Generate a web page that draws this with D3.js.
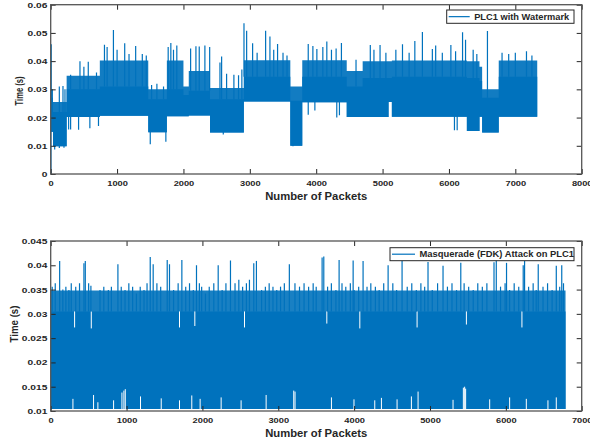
<!DOCTYPE html>
<html>
<head>
<meta charset="utf-8">
<script src="https://cdn.jsdelivr.net/npm/d3@7"></script>
<style>
  body { margin: 0; background: #fff; }
  svg text { font-family: "Liberation Sans", Arial, sans-serif; font-weight: bold; fill: #262626; }
</style>
</head>
<body>
<svg id="chart" width="590" height="444"></svg>
<script>
// ---------- Panel 1: PLC1 with Watermark ----------
const topLegend = "PLC1 with Watermark";
const topXTicks = [0, 1000, 2000, 3000, 4000, 5000, 6000, 7000, 8000];
const topYTicks = [0, 0.01, 0.02, 0.03, 0.04, 0.05, 0.06];
const topYTickLabels = ["0", "0.01", "0.02", "0.03", "0.04", "0.05", "0.06"];
// dense trace envelope: [fromPacket, toPacket, low, solid top, sparse top]
const topSegments = [
  [0, 35, 0.0150, 0.0270, 0.0300],
  [35, 240, 0.0098, 0.0220, 0.0255],
  [240, 740, 0.0202, 0.0300, 0.0348],
  [740, 1470, 0.0206, 0.0310, 0.0402],
  [1470, 1750, 0.0148, 0.0265, 0.0300],
  [1750, 2000, 0.0205, 0.0300, 0.0402],
  [2000, 2080, 0.0205, 0.0280, 0.0310],
  [2080, 2400, 0.0207, 0.0295, 0.0365],
  [2400, 2910, 0.0147, 0.0265, 0.0305],
  [2910, 3610, 0.0257, 0.0345, 0.0403],
  [3610, 3790, 0.0100, 0.0260, 0.0310],
  [3790, 4460, 0.0254, 0.0345, 0.0403],
  [4460, 4700, 0.0202, 0.0310, 0.0365],
  [4700, 5090, 0.0202, 0.0340, 0.0400],
  [5090, 5140, 0.0255, 0.0340, 0.0400],
  [5140, 6270, 0.0203, 0.0345, 0.0402],
  [6270, 6460, 0.0152, 0.0340, 0.0400],
  [6460, 6500, 0.0203, 0.0330, 0.0380],
  [6500, 6750, 0.0147, 0.0270, 0.0300],
  [6750, 7330, 0.0203, 0.0345, 0.0402]
];
// isolated samples above the envelope: [packet, value]
const topPeaks = [
  [8, 0.0460], [130, 0.0310], [185, 0.0312], [215, 0.0300],
  [300, 0.0352], [441, 0.0400], [500, 0.0380], [566, 0.0398], [690, 0.0360],
  [810, 0.0458], [850, 0.0450], [945, 0.0510], [1000, 0.0440], [1115, 0.0463],
  [1180, 0.0425], [1280, 0.0454], [1380, 0.0425], [1440, 0.0420],
  [1520, 0.0315], [1600, 0.0320], [1700, 0.0310],
  [1770, 0.0450], [1810, 0.0464], [1850, 0.0440], [1900, 0.0455],
  [2108, 0.0445], [2188, 0.0453], [2238, 0.0452], [2323, 0.0455], [2395, 0.0450],
  [2550, 0.0395], [2575, 0.0416], [2650, 0.0355], [2760, 0.0352], [2830, 0.0350], [2880, 0.0370],
  [2912, 0.0534], [2952, 0.0508], [3042, 0.0463], [3110, 0.0430], [3238, 0.0508],
  [3303, 0.0487], [3360, 0.0440], [3418, 0.0461], [3500, 0.0430], [3560, 0.0420],
  [3880, 0.0461], [3950, 0.0454], [4010, 0.0443], [4100, 0.0450], [4160, 0.0470],
  [4230, 0.0440], [4300, 0.0445], [4380, 0.0464],
  [4600, 0.0405], [4815, 0.0457], [4870, 0.0440], [4962, 0.0457], [5050, 0.0430],
  [5200, 0.0440], [5300, 0.0460], [5400, 0.0430],
  [5486, 0.0471], [5600, 0.0503], [5750, 0.0443], [5800, 0.0455], [5900, 0.0430],
  [6029, 0.0457], [6100, 0.0435], [6205, 0.0502], [6250, 0.0476], [6365, 0.0440],
  [6420, 0.0425], [6580, 0.0507], [6800, 0.0430], [6900, 0.0425], [7000, 0.0430],
  [7168, 0.0435], [7250, 0.0420]
];
// isolated samples below the envelope: [packet, value]
const topDips = [
  [4, 0.0000], [60, 0.0087], [130, 0.0092], [200, 0.0093], [270, 0.0158], [300, 0.0158],
  [420, 0.0157], [590, 0.0162], [720, 0.0170], [1500, 0.0105], [1735, 0.0114],
  [2600, 0.0140], [3650, 0.0098], [3880, 0.0210], [3980, 0.0225], [4310, 0.0200],
  [4350, 0.0208], [6083, 0.0155], [6124, 0.0155]
];

// ---------- Panel 2: Masquerade (FDK) Attack on PLC1 ----------
const botLegend = "Masquerade (FDK) Attack on PLC1";
const botXTicks = [0, 1000, 2000, 3000, 4000, 5000, 6000, 7000];
const botYTicks = [0.01, 0.015, 0.02, 0.025, 0.03, 0.035, 0.04, 0.045];
const botYTickLabels = ["0.01", "0.015", "0.02", "0.025", "0.03", "0.035", "0.04", "0.045"];
const botSegments = [
  [0, 6787, 0.0104, 0.0305, 0.0348]
];
const botPeaks = [
  [20, 0.0356], [60, 0.0363], [118, 0.0409], [160, 0.0350], [200, 0.0356], [240, 0.0349],
  [271, 0.0363], [330, 0.0356], [380, 0.0363], [438, 0.0404], [456, 0.0409], [500, 0.0363],
  [530, 0.0358], [650, 0.0349], [700, 0.0356], [760, 0.0349], [800, 0.0356], [886, 0.0402],
  [930, 0.0356], [980, 0.0349], [1030, 0.0363], [1080, 0.0356], [1130, 0.0342], [1180, 0.0356],
  [1230, 0.0349], [1270, 0.0363], [1312, 0.0417], [1351, 0.0402], [1400, 0.0363], [1450, 0.0356],
  [1536, 0.0411], [1566, 0.0402], [1620, 0.0349], [1680, 0.0363], [1729, 0.0411], [1780, 0.0356],
  [1830, 0.0363], [1880, 0.0349], [1922, 0.0400], [1960, 0.0363], [1990, 0.0356], [2040, 0.0342],
  [2090, 0.0356], [2150, 0.0363], [2208, 0.0400], [2260, 0.0349], [2310, 0.0363], [2370, 0.0410],
  [2430, 0.0363], [2480, 0.0370], [2530, 0.0356], [2580, 0.0363], [2620, 0.0370], [2677, 0.0404],
  [2712, 0.0409], [2780, 0.0349], [2830, 0.0356], [2880, 0.0363], [2930, 0.0356], [2980, 0.0349],
  [3030, 0.0356], [3080, 0.0363], [3146, 0.0402], [3220, 0.0363], [3280, 0.0356], [3340, 0.0363],
  [3400, 0.0356], [3460, 0.0363], [3500, 0.0356], [3578, 0.0416], [3600, 0.0418], [3650, 0.0356],
  [3700, 0.0363], [3760, 0.0349], [3802, 0.0411], [3840, 0.0363], [3890, 0.0356], [3950, 0.0363],
  [3987, 0.0410], [4000, 0.0349], [4060, 0.0356], [4118, 0.0409], [4170, 0.0356], [4220, 0.0363],
  [4280, 0.0356], [4330, 0.0349], [4390, 0.0363], [4448, 0.0400], [4510, 0.0363], [4560, 0.0349],
  [4632, 0.0410], [4700, 0.0356], [4760, 0.0363], [4820, 0.0349], [4880, 0.0363], [4930, 0.0356],
  [4974, 0.0407], [5030, 0.0349], [5100, 0.0363], [5172, 0.0399], [5230, 0.0356], [5290, 0.0363],
  [5350, 0.0349], [5406, 0.0405], [5450, 0.0363], [5510, 0.0356], [5570, 0.0349], [5630, 0.0363],
  [5690, 0.0356], [5750, 0.0363], [5844, 0.0406], [5874, 0.0413], [5930, 0.0356], [5990, 0.0363],
  [6009, 0.0405], [6050, 0.0349], [6110, 0.0363], [6170, 0.0356], [6229, 0.0400], [6247, 0.0409],
  [6300, 0.0356], [6360, 0.0363], [6400, 0.0349], [6427, 0.0402], [6490, 0.0356], [6550, 0.0363],
  [6610, 0.0349], [6665, 0.0399], [6710, 0.0356], [6737, 0.0400], [6760, 0.0363]
];
const botDips = [];
// stretches where the trace never reaches the floor: [packet, lowest value]
const botFloorGaps = [
  [293, 0.0125], [565, 0.0133], [622, 0.0118], [829, 0.0122], [939, 0.0138], [965, 0.0142],
  [983, 0.0145], [1184, 0.0130], [1457, 0.0126], [1698, 0.0122], [1860, 0.0132], [1970, 0.0125],
  [2247, 0.0128], [2510, 0.0122], [2840, 0.0133], [3204, 0.0142], [3221, 0.0140], [3701, 0.0128],
  [3998, 0.0124], [4272, 0.0122], [4360, 0.0127], [4566, 0.0124], [4755, 0.0130], [4843, 0.0140],
  [5304, 0.0123], [5440, 0.0148], [5457, 0.0150], [5470, 0.0146], [5787, 0.0124], [6050, 0.0128],
  [6270, 0.0125], [6555, 0.0122], [6665, 0.0128]
];
// stretches where the trace stays below the solid top: [packet, highest value]
const botCeilingGaps = [
  [315, 0.0272], [535, 0.0270], [1698, 0.0272], [1900, 0.0275], [2555, 0.0272],
  [3640, 0.0280], [4075, 0.0270], [4830, 0.0272], [5480, 0.0278], [6212, 0.0272]
];

const BLUE = "#0072BD";
const INK = "#262626";
const svg = d3.select("#chart");

function stretchText(sel, sx) {
  // glyphs in this figure are drawn wider than tall
  sel.each(function () {
    const t = d3.select(this);
    const x = +t.attr("x") || 0;
    t.attr("transform", `translate(${x},0) scale(${sx},1) translate(${-x},0)`);
  });
}

function drawPanel(cfg) {
  const { left, right, top, bottom } = cfg.box;
  const x = d3.scaleLinear().domain(cfg.xDomain).range([left, right]);
  const y = d3.scaleLinear().domain(cfg.yDomain).range([bottom, top]);
  const g = svg.append("g");

  const clipId = "clip" + cfg.id;
  svg.append("clipPath").attr("id", clipId)
    .append("rect").attr("x", left).attr("y", top)
    .attr("width", right - left).attr("height", bottom - top);

  const plot = g.append("g").attr("clip-path", `url(#${clipId})`);

  // envelope of the dense trace: full range (slightly lighter) under a solid core
  const segs = cfg.segments;
  const pts = segs.map(s => ({ p: s[0], lo: s[2], mid: s[3], hi: s[4] }));
  const last = segs[segs.length - 1];
  pts.push({ p: last[1], lo: last[2], mid: last[3], hi: last[4] });
  const full = d3.area()
    .x(d => x(d.p)).y0(d => y(d.lo)).y1(d => y(d.hi))
    .curve(d3.curveStepAfter);
  const core = d3.area()
    .x(d => x(d.p)).y0(d => y(d.lo)).y1(d => y(d.mid))
    .curve(d3.curveStepAfter);
  plot.append("path").datum(pts).attr("d", full).attr("fill", BLUE).attr("fill-opacity", cfg.fringeOpacity);
  plot.append("path").datum(pts).attr("d", core).attr("fill", BLUE);

  const segAt = p => segs.find(s => p >= s[0] && p <= s[1]) || last;

  // gaps inside the envelope
  plot.selectAll(".gapLo").data(cfg.floorGaps || []).join("line")
    .attr("x1", d => x(d[0])).attr("x2", d => x(d[0]))
    .attr("y1", d => y(cfg.yDomain[0])).attr("y2", d => y(d[1]))
    .attr("stroke", "#fff").attr("stroke-width", 1);
  plot.selectAll(".gapHi").data(cfg.ceilingGaps || []).join("line")
    .attr("x1", d => x(d[0])).attr("x2", d => x(d[0]))
    .attr("y1", d => y(segAt(d[0])[3])).attr("y2", d => y(d[1]))
    .attr("stroke", "#fff").attr("stroke-width", 1);

  // isolated excursions above and below
  plot.selectAll(".peak").data(cfg.peaks).join("line")
    .attr("x1", d => x(d[0])).attr("x2", d => x(d[0]))
    .attr("y1", d => y(segAt(d[0])[3])).attr("y2", d => y(d[1]))
    .attr("stroke", BLUE).attr("stroke-width", 1.2);
  plot.selectAll(".dip").data(cfg.dips).join("line")
    .attr("x1", d => x(d[0])).attr("x2", d => x(d[0]))
    .attr("y1", d => y(segAt(d[0])[2]) - 1).attr("y2", d => y(d[1]))
    .attr("stroke", BLUE).attr("stroke-width", 1.2);

  // axes with inward ticks on all four sides
  const tk = 5;
  const xb = g.append("g").attr("transform", `translate(0,${bottom})`)
    .call(d3.axisBottom(x).tickValues(cfg.xTicks).tickFormat(d3.format("d"))
      .tickSizeInner(-tk).tickSizeOuter(0).tickPadding(6.3));
  const xt = g.append("g").attr("transform", `translate(0,${top})`)
    .call(d3.axisTop(x).tickValues(cfg.xTicks).tickFormat("").tickSizeInner(-tk).tickSizeOuter(0));
  const yl = g.append("g").attr("transform", `translate(${left},0)`)
    .call(d3.axisLeft(y).tickValues(cfg.yTicks).tickFormat((d, i) => cfg.yTickLabels[i])
      .tickSizeInner(-tk).tickSizeOuter(0).tickPadding(3.3));
  const yr = g.append("g").attr("transform", `translate(${right},0)`)
    .call(d3.axisRight(y).tickValues(cfg.yTicks).tickFormat("").tickSizeInner(-tk).tickSizeOuter(0));
  [xb, xt, yl, yr].forEach(a => {
    a.select(".domain").remove();
    a.selectAll(".tick line").attr("stroke", INK).attr("stroke-width", 1);
    a.selectAll("text").attr("font-size", 8).attr("fill", INK)
      .attr("font-family", '"Liberation Sans", Arial, sans-serif').attr("font-weight", "bold");
  });
  stretchText(xb.selectAll("text"), 1.16);
  stretchText(yl.selectAll("text"), 1.28);

  // axes box
  g.append("rect").attr("x", left).attr("y", top)
    .attr("width", right - left).attr("height", bottom - top)
    .attr("fill", "none").attr("stroke", "#555").attr("stroke-width", 1.3);

  // axis titles
  g.append("text").attr("x", (left + right) / 2).attr("y", cfg.xLabelY)
    .attr("text-anchor", "middle").attr("font-size", 10.5)
    .attr("textLength", 102).attr("lengthAdjust", "spacingAndGlyphs")
    .text("Number of Packets");
  g.append("text")
    .attr("transform", `translate(${cfg.yLabelX},${cfg.yLabelCY}) rotate(-90)`)
    .attr("text-anchor", "middle").attr("font-size", 11)
    .attr("textLength", cfg.yLabelLen).attr("lengthAdjust", "spacingAndGlyphs")
    .text("Time (s)");

  // legend
  const L = cfg.legend;
  g.append("rect").attr("x", L.x).attr("y", L.y).attr("width", L.w).attr("height", L.h)
    .attr("fill", "#fff").attr("stroke", INK).attr("stroke-width", 1);
  const ly = L.y + L.h / 2;
  g.append("line").attr("x1", L.x + 2).attr("x2", L.x + L.lineLen).attr("y1", ly).attr("y2", ly)
    .attr("stroke", BLUE).attr("stroke-width", 1.2);
  g.append("text").attr("x", L.x + L.lineLen + 4.5).attr("y", ly + 3)
    .attr("font-size", 8.3).attr("textLength", L.textLen).attr("lengthAdjust", "spacingAndGlyphs")
    .text(cfg.legendText);
}

drawPanel({
  id: "Top",
  box: { left: 50.7, right: 581.7, top: 4.7, bottom: 174 },
  xDomain: [0, 8000], yDomain: [0, 0.06],
  xTicks: topXTicks, yTicks: topYTicks, yTickLabels: topYTickLabels,
  segments: topSegments, peaks: topPeaks, dips: topDips, fringeOpacity: 0.93,
  xLabelY: 199.5, yLabelX: 22.5, yLabelCY: 91, yLabelLen: 29,
  legend: { x: 446.7, y: 10, w: 127.3, h: 13.3, lineLen: 23, textLen: 95 },
  legendText: topLegend
});

drawPanel({
  id: "Bot",
  box: { left: 50.7, right: 581.7, top: 241, bottom: 411 },
  xDomain: [0, 7000], yDomain: [0.01, 0.045],
  xTicks: botXTicks, yTicks: botYTicks, yTickLabels: botYTickLabels,
  segments: botSegments, peaks: botPeaks, dips: botDips, fringeOpacity: 0.9,
  floorGaps: botFloorGaps, ceilingGaps: botCeilingGaps,
  xLabelY: 436.5, yLabelX: 18, yLabelCY: 324, yLabelLen: 37,
  legend: { x: 390, y: 247.7, w: 184, h: 13, lineLen: 25, textLen: 154.6 },
  legendText: botLegend
});
</script>
</body>
</html>
